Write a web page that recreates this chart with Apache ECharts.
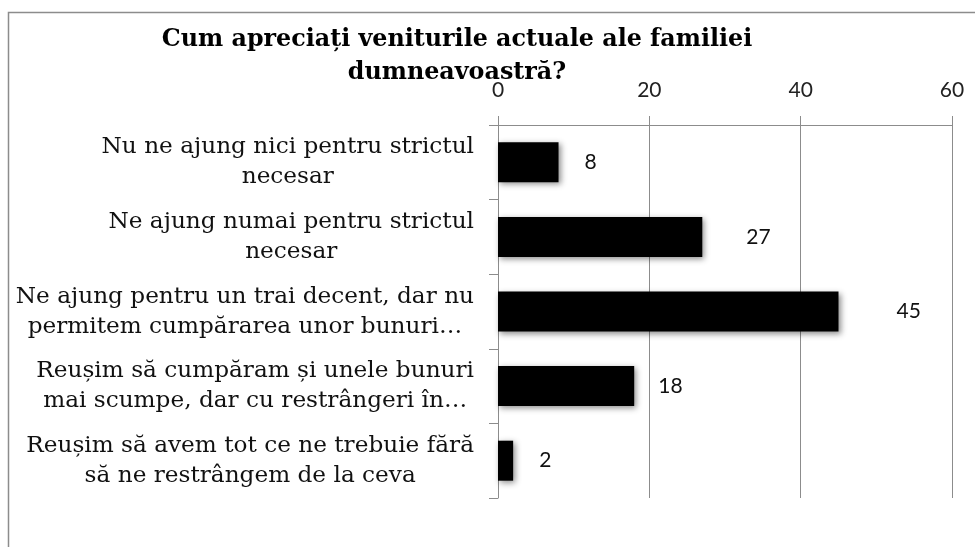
<!DOCTYPE html>
<html>
<head>
<meta charset="utf-8">
<script src="https://cdn.jsdelivr.net/npm/echarts@6/dist/echarts.min.js"></script>
<style>html,body{margin:0;padding:0;background:#fff;}#c{width:975px;height:547px;}</style>
</head>
<body>
<div id="c"></div>
<script>
const titleText = 'Cum apreciați veniturile actuale ale familiei\ndumneavoastră?';
const categories = [
  'Nu ne ajung nici pentru strictul\nnecesar',
  'Ne ajung numai pentru strictul\nnecesar',
  'Ne ajung pentru un trai decent, dar nu\npermitem cumpărarea unor bunuri…',
  'Reușim să cumpăram și unele bunuri\nmai scumpe, dar cu restrângeri în…',
  'Reușim să avem tot ce ne trebuie fără\nsă ne restrângem de la ceva'
];
const values = [8, 27, 45, 18, 2];
const axisMin = 0, axisMax = 60, axisStep = 20;

const labelGaps = [26, 44, 58, 24, 26];

const chart = echarts.init(document.getElementById('c'), null, {renderer: 'canvas'});
chart.setOption({
  animation: false,
  backgroundColor: '#fff',
  title: {
    text: titleText,
    left: 452, top: 18, textAlign: 'center',
    textStyle: {fontFamily: 'DejaVu Serif', fontWeight: 'bold', fontSize: 23.8, lineHeight: 33, color: '#000'}
  },
  graphic: [{
    type: 'rect', shape: {x: 8.5, y: 12.5, width: 1000, height: 600},
    style: {fill: 'none', stroke: '#8c8c8c', lineWidth: 1.5}, silent: true, z: -1
  }],
  grid: {left: 498, right: 23, top: 125, bottom: 49, containLabel: false},
  xAxis: {
    type: 'value', position: 'top', min: axisMin, max: axisMax, interval: axisStep,
    axisLine: {show: true, lineStyle: {color: '#8c8c8c', width: 1}},
    axisTick: {show: true, length: 9, lineStyle: {color: '#8c8c8c'}},
    splitLine: {show: true, lineStyle: {color: '#8c8c8c', width: 1}},
    axisLabel: {margin: 24, fontFamily: 'Lato', fontSize: 21, color: '#222'}
  },
  yAxis: {
    type: 'category', data: categories, inverse: true,
    axisLine: {show: true, lineStyle: {color: '#8c8c8c', width: 1}},
    axisTick: {show: true, length: 9, lineStyle: {color: '#8c8c8c'}},
    axisLabel: {
      margin: 24, align: 'right',
      formatter: function (v) { return v.split('\n').map(function (s) { return '{c|' + s + '}'; }).join('\n'); },
      rich: {c: {align: 'center', fontFamily: 'DejaVu Serif', fontSize: 23.2, lineHeight: 30, color: '#111'}}
    }
  },
  series: [{
    type: 'bar', barWidth: 40,
    data: values.map(function (v, i) {
      return {value: v, label: {distance: labelGaps[i]}};
    }),
    itemStyle: {color: '#000', shadowColor: 'rgba(0,0,0,0.45)', shadowBlur: 6, shadowOffsetX: 2, shadowOffsetY: 2},
    label: {show: true, position: 'right', fontFamily: 'Lato', fontSize: 21, color: '#111'}
  }]
});
</script>
</body>
</html>
